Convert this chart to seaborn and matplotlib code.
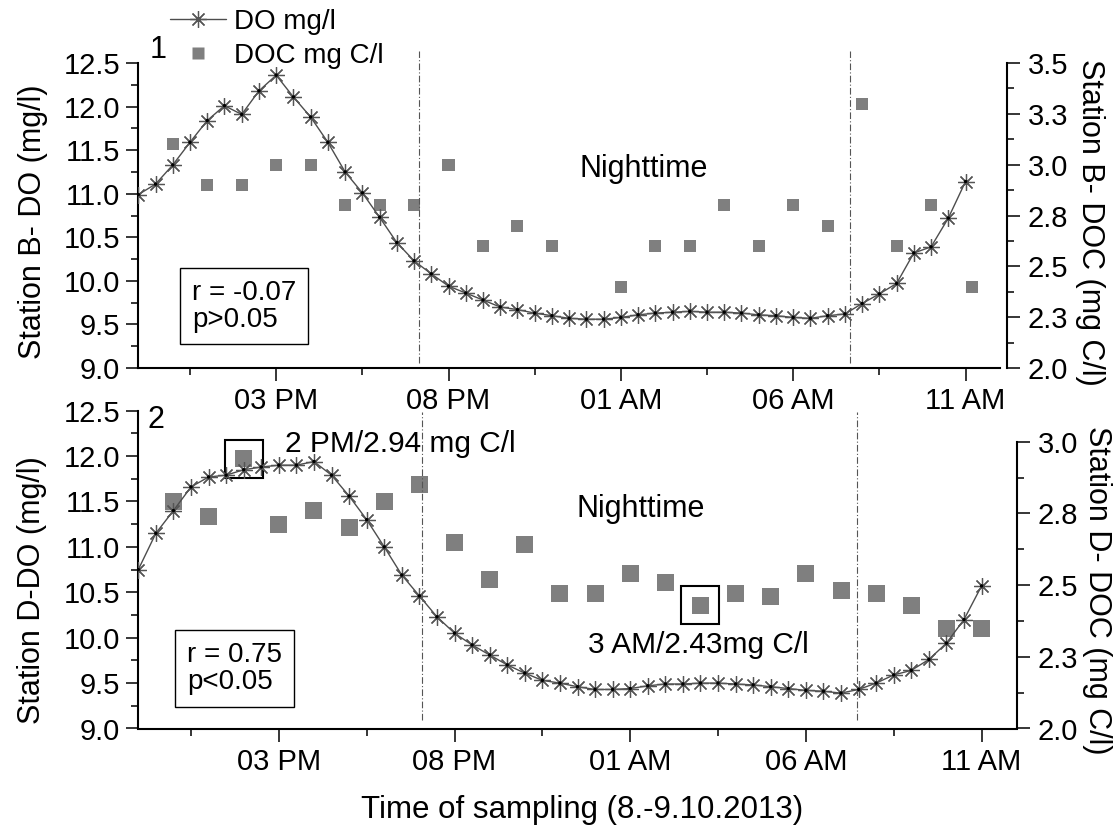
import numpy as np
import pandas as pd
import seaborn as sns
import matplotlib.pyplot as plt
from matplotlib.lines import Line2D
from matplotlib.ticker import FixedLocator

# ---------------- data ----------------
# sampling times in hours from midnight of 8.10.2013 (11 = 11 AM, 35 = 11 AM next day)
do_times = np.arange(11.0, 35.01, 0.5)

do_B = [10.99, 11.11, 11.33, 11.59, 11.84, 12.01, 11.91, 12.18, 12.36, 12.11,
        11.88, 11.59, 11.25, 11.01, 10.73, 10.44, 10.23, 10.08, 9.94, 9.86,
        9.78, 9.70, 9.67, 9.63, 9.60, 9.57, 9.56, 9.56, 9.58, 9.61,
        9.63, 9.64, 9.65, 9.64, 9.64, 9.63, 9.61, 9.60, 9.58, 9.57,
        9.60, 9.62, 9.74, 9.85, 9.97, 10.32, 10.39, 10.72, 11.14]

doc_B_times = [12, 13, 14, 15, 16, 17, 18, 19, 20, 21, 22, 23,
               25, 26, 27, 28, 29, 30, 31, 32, 33, 34, 35.2]
doc_B = [3.10, 2.90, 2.90, 3.00, 3.00, 2.80, 2.80, 2.80, 3.00, 2.60, 2.70, 2.60,
         2.40, 2.60, 2.60, 2.80, 2.60, 2.80, 2.70, 3.30, 2.60, 2.80, 2.40]

do_D = [10.75, 11.15, 11.40, 11.66, 11.77, 11.79, 11.85, 11.88, 11.90, 11.90,
        11.94, 11.79, 11.56, 11.30, 11.00, 10.69, 10.46, 10.23, 10.05, 9.92,
        9.81, 9.70, 9.61, 9.53, 9.50, 9.46, 9.43, 9.43, 9.44, 9.47,
        9.49, 9.49, 9.50, 9.50, 9.49, 9.48, 9.46, 9.44, 9.42, 9.41,
        9.39, 9.43, 9.50, 9.59, 9.64, 9.76, 9.94, 10.20, 10.57]

doc_D_times = list(range(12, 36))
doc_D = [2.79, 2.74, 2.94, 2.71, 2.76, 2.70, 2.79, 2.85, 2.65, 2.52, 2.64, 2.47,
         2.47, 2.54, 2.51, 2.43, 2.47, 2.46, 2.54, 2.48, 2.47, 2.43, 2.35, 2.35]

highlight_times = [14, 27]          # 2 PM / 3 AM
sunset_B, sunrise_B = 19.13, 31.65
sunset_D, sunrise_D = 19.08, 31.45

x_ticks = [15, 20, 25, 30, 35]
x_ticklabels = ["03 PM", "08 PM", "01 AM", "06 AM", "11 AM"]
x_minor = [12.5, 17.5, 22.5, 27.5, 32.5]
do_ticks = [9.0, 9.5, 10.0, 10.5, 11.0, 11.5, 12.0, 12.5]
do_minor = [9.25, 9.75, 10.25, 10.75, 11.25, 11.75, 12.25]
docB_ticks = [2.0, 2.25, 2.5, 2.75, 3.0, 3.25, 3.5]
docB_labels = ["2.0", "2.3", "2.5", "2.8", "3.0", "3.3", "3.5"]
docB_minor = [2.125, 2.375, 2.625, 2.875, 3.125, 3.375]
docD_ticks = [2.0, 2.25, 2.5, 2.75, 3.0]
docD_labels = ["2.0", "2.3", "2.5", "2.8", "3.0"]
docD_minor = [2.125, 2.375, 2.625, 2.875]

# ---------------- style ----------------
sns.set_style("ticks")
plt.rcParams['font.family'] = ['Liberation Sans', 'DejaVu Sans']
plt.rcParams['text.color'] = 'black'
plt.rcParams['axes.labelcolor'] = 'black'
plt.rcParams['xtick.color'] = 'black'
plt.rcParams['ytick.color'] = 'black'
plt.rcParams['axes.edgecolor'] = 'black'

W, H = 1117, 836
fig = plt.figure(figsize=(W / 100, H / 100), dpi=100)


def rect(l, r, t, b):
    return [l / W, 1 - b / H, (r - l) / W, (b - t) / H]


axB = fig.add_axes(rect(138.3, 1000, 63, 368))
axD = fig.add_axes(rect(138.3, 1016.7, 410.7, 728.5))
axBr = axB.twinx()
axDr = axD.twinx()

LINE_C = '#4d4d4d'
STAR_C = '#555555'
SQ_C = '#7f7f7f'
STAR = (8, 2, 0)
STAR_MS = 12
TICK_FS = 21
LAB_FS = 22


def draw_panel(ax, axr, do, doc_t, doc, sq_size):
    sns.lineplot(x=do_times, y=do, ax=ax, color=LINE_C, lw=1.0, marker=STAR,
                 markersize=STAR_MS, markeredgecolor=STAR_C, markeredgewidth=0.9,
                 errorbar=None, zorder=3)
    sns.scatterplot(x=do_times, y=do, ax=ax, s=6, color='black',
                    edgecolor='none', zorder=4)
    sns.scatterplot(x=doc_t, y=doc, ax=axr, marker='s', s=sq_size,
                    color=SQ_C, edgecolor='none', zorder=3)


draw_panel(axB, axBr, do_B, doc_B_times, doc_B, 75)
draw_panel(axD, axDr, do_D, doc_D_times, doc_D, 150)

for ax, axr in [(axB, axBr), (axD, axDr)]:
    ax.set_xlim(11, 36)
    ax.set_ylim(9.0, 12.5)
    ax.set_xticks(x_ticks)
    ax.set_xticklabels(x_ticklabels)
    ax.xaxis.set_minor_locator(FixedLocator(x_minor))
    ax.set_yticks(do_ticks)
    ax.set_yticklabels([f"{v:.1f}" for v in do_ticks])
    ax.yaxis.set_minor_locator(FixedLocator(do_minor))
    for a in (ax, axr):
        a.tick_params(which='major', length=9, width=1.1, labelsize=TICK_FS,
                      direction='out', color='black', labelcolor='black')
        a.tick_params(which='minor', length=5, width=1.1, direction='out',
                      color='black')
        for s in a.spines.values():
            s.set_linewidth(1.5)
            s.set_color('black')
    ax.tick_params(axis='x', which='major', pad=5)
    ax.tick_params(axis='y', which='major', pad=4)
    axr.tick_params(axis='y', which='major', pad=6)
    ax.spines['top'].set_visible(False)
    ax.spines['right'].set_visible(False)
    axr.spines['top'].set_visible(False)
    axr.spines['left'].set_visible(False)
    axr.spines['bottom'].set_visible(False)
    ax.set_xlabel("")
    axr.set_xlabel("")
    ax.set_zorder(axr.get_zorder() + 1)
    ax.patch.set_visible(False)

axBr.set_ylim(2.0, 3.5)
axBr.set_yticks(docB_ticks)
axBr.set_yticklabels(docB_labels)
axBr.yaxis.set_minor_locator(FixedLocator(docB_minor))
axBr.spines['right'].set_position(('outward', 5))

axDr.set_ylim(2.0, 3.108)
axDr.set_yticks(docD_ticks)
axDr.set_yticklabels(docD_labels)
axDr.yaxis.set_minor_locator(FixedLocator(docD_minor))
axDr.spines['right'].set_bounds(2.0, 3.0)

# axis labels
axB.set_ylabel("Station B- DO (mg/l)", fontsize=LAB_FS, color='black')
axB.yaxis.set_label_coords(-0.1048, 0.479)
axD.set_ylabel("Station D-DO (mg/l)", fontsize=LAB_FS, color='black')
axD.yaxis.set_label_coords(-0.104, 0.436)
axBr.set_ylabel("Station B- DOC (mg C/l)", fontsize=LAB_FS, rotation=270,
                va='center', color='black')
axBr.yaxis.set_label_coords(1.1045, 0.479)
axDr.set_ylabel("Station D- DOC (mg C/l)", fontsize=LAB_FS, rotation=270,
                va='center', color='black')
axDr.yaxis.set_label_coords(1.0915, 0.436)
fig.text(581.7 / W, 1 - 810 / H, "Time of sampling (8.-9.10.2013)",
         fontsize=22.5, ha='center', va='center', color='black')

# sunset / sunrise lines
for ax, xs, lo, hi in [(axB, (sunset_B, sunrise_B), 0.016, 1.04),
                       (axD, (sunset_D, sunrise_D), 0.027, 0.996)]:
    for xv in xs:
        ax.axvline(xv, ymin=lo, ymax=hi, clip_on=False, color='#555555',
                   lw=0.8, ls=(0, (6, 2, 1, 2)), zorder=1)

# texts
axB.text(0.0229, 1.043, "1", transform=axB.transAxes, fontsize=22,
         ha='center', va='center')
axD.text(0.020, 0.971, "2", transform=axD.transAxes, fontsize=22,
         ha='center', va='center')
axB.text(0.586, 0.627, "Nighttime", transform=axB.transAxes, fontsize=22,
         ha='center', va='baseline')
axD.text(0.5717, 0.6665, "Nighttime", transform=axD.transAxes, fontsize=22,
         ha='center', va='baseline')
axB.text(0.123, 0.203, "r = -0.07\np>0.05", transform=axB.transAxes,
         fontsize=20, ha='center', va='center', multialignment='left',
         linespacing=1.05,
         bbox=dict(boxstyle='square,pad=0.42', fc='white', ec='black', lw=1.0))
axD.text(0.1095, 0.189, "r = 0.75\np<0.05", transform=axD.transAxes,
         fontsize=20, ha='center', va='center', multialignment='left',
         linespacing=1.05,
         bbox=dict(boxstyle='square,pad=0.42', fc='white', ec='black', lw=1.0))
axD.text(0.167, 0.871, "2 PM/2.94 mg C/l", transform=axD.transAxes,
         fontsize=21.5, ha='left', va='baseline')
axD.text(0.512, 0.2366, "3 AM/2.43mg C/l", transform=axD.transAxes,
         fontsize=21.5, ha='left', va='baseline')

# highlight boxes around the extreme DOC values
hl_vals = [doc_D[doc_D_times.index(t)] for t in highlight_times]
axDr.plot(highlight_times, hl_vals, ls='none', marker='s', ms=27,
          mfc='none', mec='black', mew=1.5, zorder=5)

# legend
h1 = Line2D([], [], color=LINE_C, lw=1.0, marker=STAR, ms=STAR_MS,
            mec=STAR_C, mew=0.9)
h2 = Line2D([], [], ls='none', marker='s', ms=8.6, mfc=SQ_C, mec='none')
fig.legend([h1, h2], ["DO mg/l", "DOC mg C/l"], loc='upper left',
           bbox_to_anchor=(170 / W, 1 - 9 / H), frameon=False, fontsize=20,
           handlelength=2.0, handletextpad=0.3, labelspacing=0.28,
           borderpad=0, borderaxespad=0)

fig.savefig("out.png", dpi=100)
